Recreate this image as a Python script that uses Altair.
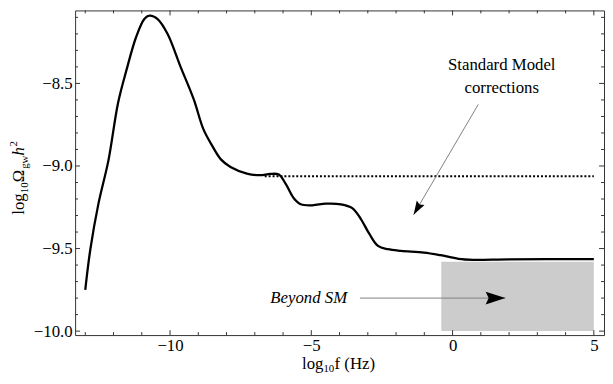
import altair as alt
import pandas as pd

# ---------------- data ----------------
curve_x = [-13.0, -12.82, -12.53, -12.18, -11.84, -11.54, -11.20, -10.91, -10.73,
           -10.44, -10.09, -9.63, -9.16, -8.82, -8.50, -8.20, -7.86, -7.28, -6.82,
           -6.45, -6.15, -5.90, -5.62, -5.37, -4.96, -4.49, -3.95, -3.55, -3.25, -2.95,
           -2.64, -2.29, -1.82, -1.01, -0.43, 0.21, 0.73, 2.0, 5.0]
curve_y = [-9.75, -9.504, -9.225, -8.966, -8.618, -8.418, -8.219, -8.110, -8.089,
           -8.110, -8.199, -8.398, -8.597, -8.777, -8.880, -8.960, -9.006, -9.046, -9.056,
           -9.048, -9.052, -9.110, -9.195, -9.232, -9.238, -9.228, -9.232, -9.255, -9.320, -9.410,
           -9.484, -9.504, -9.514, -9.524, -9.540, -9.562, -9.568, -9.565, -9.564]

sm_x = [-6.65, 5.0]
sm_y = [-9.062, -9.062]

box_x = [-0.4]
box_x2 = [5.0]
box_y = [-10.0]
box_y2 = [-9.58]

x_major = [-10, -5, 0, 5]
x_minor = [-13, -12, -11, -9, -8, -7, -6, -4, -3, -2, -1, 1, 2, 3, 4]
y_major = [-10.0, -9.5, -9.0, -8.5]
y_minor = [-9.9, -9.8, -9.7, -9.6, -9.4, -9.3, -9.2, -9.1,
           -8.9, -8.8, -8.7, -8.6, -8.4, -8.3, -8.2, -8.1]

# annotation arrows (data coordinates)
arrow1_from = (-3.28, -9.80)
arrow1_to = (1.87, -9.80)
arrow2_from = (0.91, -8.627)
arrow2_to = (-1.38, -9.295)

XMIN, XMAX = -13.36, 5.36
YMIN, YMAX = -10.024, -8.058

FONT = "Liberation Serif"
FS = 17
FRAME = "#333333"

xs = alt.Scale(domain=[XMIN, XMAX], nice=False, zero=False)
ys = alt.Scale(domain=[YMIN, YMAX], nice=False, zero=False)

xax = alt.Axis(values=x_major, format="d", ticks=False, domain=False, grid=False,
               title=None, labelFont=FONT, labelFontSize=FS, labelColor="black",
               labelPadding=3, labelFlush=False, orient="bottom")
yax = alt.Axis(values=y_major, format=".1f", ticks=False, domain=False, grid=False,
               title=None, labelFont=FONT, labelFontSize=FS, labelColor="black",
               labelPadding=3, orient="left")


def XF(field):
    return alt.X(field, type="quantitative", scale=xs, axis=xax, title=None)


def YF(field):
    return alt.Y(field, type="quantitative", scale=ys, axis=yax, title=None)


def XD(v):
    return alt.XDatum(v, type="quantitative", scale=xs, axis=xax, title=None)


def YD(v):
    return alt.YDatum(v, type="quantitative", scale=ys, axis=yax, title=None)


curve_df = pd.DataFrame({"x": curve_x, "y": curve_y})
sm_df = pd.DataFrame({"x": sm_x, "y": sm_y})
box_df = pd.DataFrame({"x": box_x, "x2": box_x2, "y": box_y, "y2": box_y2})

box = alt.Chart(box_df).mark_rect(color="#cccccc").encode(
    x=XF("x"), x2="x2", y=YF("y"), y2="y2")

curve = alt.Chart(curve_df).mark_line(color="black", strokeWidth=2.3,
                                      interpolate="catmull-rom").encode(x=XF("x"), y=YF("y"))

smline = alt.Chart(sm_df).mark_line(color="black", strokeWidth=2, strokeDash=[2, 2]).encode(
    x=XF("x"), y=YF("y"))


def xticks(vals, length):
    df = pd.DataFrame({"v": vals})
    bot = alt.Chart(df).mark_rule(color=FRAME, strokeWidth=1, y2Offset=-length).encode(
        x=XF("v"), y=YD(YMIN), y2=alt.Y2Datum(YMIN))
    top = alt.Chart(df).mark_rule(color=FRAME, strokeWidth=1, y2Offset=length).encode(
        x=XF("v"), y=YD(YMAX), y2=alt.Y2Datum(YMAX))
    return [bot, top]


def yticks(vals, length):
    df = pd.DataFrame({"v": vals})
    left = alt.Chart(df).mark_rule(color=FRAME, strokeWidth=1, x2Offset=length).encode(
        y=YF("v"), x=XD(XMIN), x2=alt.X2Datum(XMIN))
    right = alt.Chart(df).mark_rule(color=FRAME, strokeWidth=1, x2Offset=-length).encode(
        y=YF("v"), x=XD(XMAX), x2=alt.X2Datum(XMAX))
    return [left, right]


ticks = xticks(x_major, 5) + xticks(x_minor, 3) + yticks(y_major, 5) + yticks(y_minor, 3)

# arrows
base = alt.Chart(pd.DataFrame({"a": [0]}))


def arrow(p0, p1, angle, size, shape):
    line = base.mark_rule(color="#808080", strokeWidth=1).encode(
        x=XD(p0[0]), y=YD(p0[1]), x2=alt.X2Datum(p1[0]), y2=alt.Y2Datum(p1[1]))
    head = base.mark_point(shape=shape, filled=True, color="black", opacity=1,
                           size=size, angle=angle, strokeWidth=0).encode(
        x=XD(p1[0]), y=YD(p1[1]))
    return [line, head]


HEAD = "M0,0 L-1,-0.32 L-0.85,0 L-1,0.32 Z"
arrows = arrow(arrow1_from, arrow1_to, 0, 1600, HEAD) + arrow(arrow2_from, arrow2_to, 120.4, 800, HEAD)


def label(text, x, y, size=FS, style="normal", align="center", baseline="middle",
          angle=0, dx=0, dy=0):
    return base.mark_text(text=text, font=FONT, fontSize=size, fontStyle=style,
                          align=align, baseline=baseline, angle=angle, dx=dx, dy=dy,
                          color="black").encode(x=XD(x), y=YD(y))


texts = [
    label("Standard Model", 1.74, -8.386),
    label("corrections", 1.74, -8.530),
    label("Beyond SM", -5.09, -9.797, style="italic"),
]

# x-axis title: log10 f (Hz)
xt_x = -5.33
xt = [
    label("log", xt_x, YMIN, align="left", baseline="alphabetic", dx=0, dy=34),
    label("10", xt_x, YMIN, size=11, align="left", baseline="alphabetic", dx=21.7, dy=37),
    label("f (Hz)", xt_x, YMIN, align="left", baseline="alphabetic", dx=33, dy=34),
]

# y-axis title: log10 Omega_gw h^2 (rotated, dx along text, dy across)
yt_y = -9.295
yt = [
    label("log", XMIN, yt_y, align="left", baseline="alphabetic", angle=270, dx=0, dy=-52),
    label("10", XMIN, yt_y, size=11, align="left", baseline="alphabetic", angle=270, dx=21.7, dy=-48),
    label("Ω", XMIN, yt_y, align="left", baseline="alphabetic", angle=270, dx=33, dy=-52),
    label("gw", XMIN, yt_y, size=11, align="left", baseline="alphabetic", angle=270, dx=46.5, dy=-48),
    label("h", XMIN, yt_y, style="italic", align="left", baseline="alphabetic", angle=270, dx=60, dy=-52),
    label("2", XMIN, yt_y, size=11, align="left", baseline="alphabetic", angle=270, dx=69, dy=-59),
]

chart = alt.layer(box, curve, smline, *ticks, *arrows, *texts, *xt, *yt).properties(
    width=536, height=329,
    autosize=alt.AutoSizeParams(type="none"),
    padding={"left": 68, "top": 0, "right": 1, "bottom": 39},
    background="white",
).configure_view(stroke=FRAME, strokeWidth=1)

chart.save("out.html", embed_options={"renderer": "svg", "actions": False})
